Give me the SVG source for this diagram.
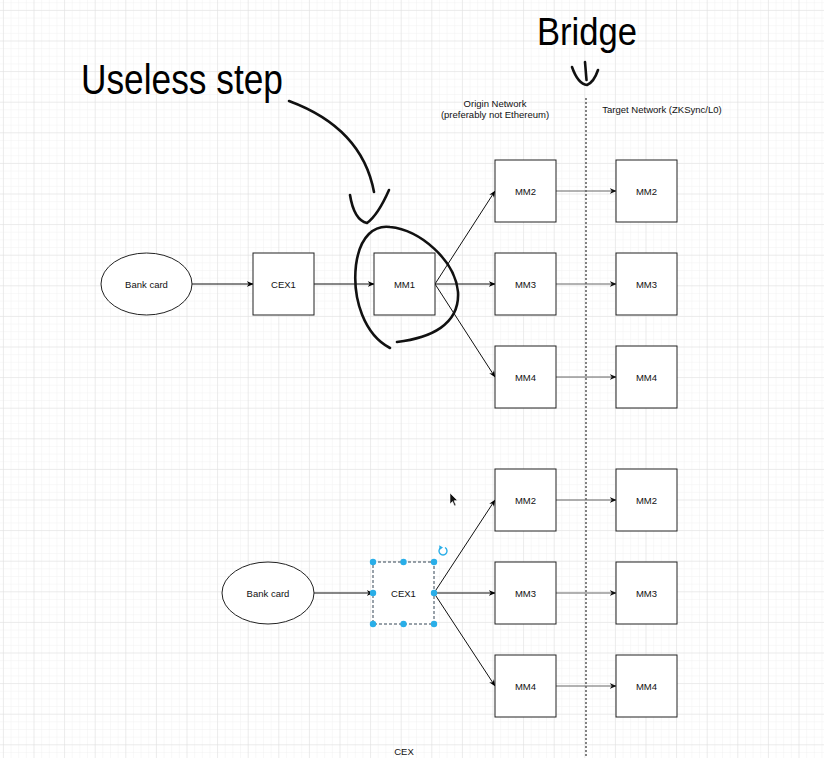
<svg xmlns="http://www.w3.org/2000/svg" width="824" height="758" viewBox="0 0 824 758">
  <defs>
    <pattern id="minor" width="7.65" height="7.65" x="2.9" y="9.9" patternUnits="userSpaceOnUse">
      <path d="M0,0 H7.65 M0,0 V7.65" stroke="#f1f1f1" stroke-width="1" fill="none"/>
    </pattern>
    <pattern id="major" width="30.6" height="30.6" x="2.9" y="9.9" patternUnits="userSpaceOnUse">
      <path d="M0,0 H30.6 M0,0 V30.6" stroke="#e0e0e0" stroke-width="1" fill="none"/>
    </pattern>
    <marker id="arr" viewBox="0 0 10 10" refX="9" refY="5" markerWidth="7" markerHeight="7" orient="auto" markerUnits="userSpaceOnUse">
      <path d="M0,1 L10,5 L0,9 L3,5 Z" fill="#000"/>
    </marker>
    <marker id="arrg" viewBox="0 0 10 10" refX="9" refY="5" markerWidth="7" markerHeight="7" orient="auto" markerUnits="userSpaceOnUse">
      <path d="M0,1 L10,5 L0,9 L3,5 Z" fill="#111"/>
    </marker>
  </defs>
  <style>
    .box { fill: #fff; stroke: #222; stroke-width: 1; }
    .lbl { font-family: "Liberation Sans", Arial, sans-serif; font-size: 9.5px; fill: #111; text-anchor: middle; dominant-baseline: central; }
    .edge { fill: none; stroke: #111; stroke-width: 1; marker-end: url(#arr); }
    .edge2 { fill: none; stroke: #666; stroke-width: 1; marker-end: url(#arrg); }
    .ink { fill: none; stroke: #111; stroke-width: 2.6; stroke-linecap: round; stroke-linejoin: round; }
    .big { font-family: "Liberation Sans", Arial, sans-serif; fill: #000; }
    .handle { fill: #29aee8; }
  </style>

  <rect width="824" height="758" fill="#fff"/>
  <rect width="824" height="758" fill="url(#minor)"/>
  <rect width="824" height="758" fill="url(#major)"/>

  <!-- bridge divider -->
  <line x1="586" y1="98" x2="586" y2="758" stroke="#333" stroke-width="1.2" stroke-dasharray="2,2"/>

  <!-- header texts -->
  <text class="lbl" x="495" y="103" font-size="9.5">Origin Network</text>
  <text class="lbl" x="495" y="114" font-size="9.5">(preferably not Ethereum)</text>
  <text class="lbl" x="662" y="109" font-size="9.5">Target Network (ZKSync/L0)</text>

  <!-- connectors -->
  <g id="connectors">
    <line class="edge" x1="192" y1="284" x2="253" y2="284"/>
    <line class="edge" x1="314" y1="284" x2="374" y2="284"/>
    <line class="edge" x1="435" y1="284" x2="495" y2="191"/>
    <line class="edge" x1="435" y1="284" x2="495" y2="284"/>
    <line class="edge" x1="435" y1="284" x2="495" y2="377"/>
    <line class="edge2" x1="556" y1="191" x2="616" y2="191"/>
    <line class="edge2" x1="556" y1="284" x2="616" y2="284"/>
    <line class="edge2" x1="556" y1="377" x2="616" y2="377"/>

    <line class="edge" x1="314" y1="593" x2="373" y2="593"/>
    <line class="edge" x1="434" y1="593" x2="495" y2="500"/>
    <line class="edge" x1="434" y1="593" x2="495" y2="593"/>
    <line class="edge" x1="434" y1="593" x2="495" y2="686"/>
    <line class="edge2" x1="556" y1="500" x2="616" y2="500"/>
    <line class="edge2" x1="556" y1="593" x2="616" y2="593"/>
    <line class="edge2" x1="556" y1="686" x2="616" y2="686"/>
  </g>

  <!-- top flow -->
  <g id="bank1"><ellipse class="box" cx="146.5" cy="284" rx="45.5" ry="31"/><text class="lbl" x="146.5" y="284">Bank card</text></g>
  <g id="cex1a"><rect class="box" x="253" y="253" width="61" height="62"/><text class="lbl" x="283.5" y="284">CEX1</text></g>
  <g id="mm1"><rect class="box" x="374" y="253" width="61" height="62"/><text class="lbl" x="404.5" y="284">MM1</text></g>
  <g id="mm2a"><rect class="box" x="495" y="160" width="61" height="62"/><text class="lbl" x="525.5" y="191">MM2</text></g>
  <g id="mm3a"><rect class="box" x="495" y="253" width="61" height="62"/><text class="lbl" x="525.5" y="284">MM3</text></g>
  <g id="mm4a"><rect class="box" x="495" y="346" width="61" height="62"/><text class="lbl" x="525.5" y="377">MM4</text></g>
  <g id="tmm2a"><rect class="box" x="616" y="160" width="61" height="62"/><text class="lbl" x="646.5" y="191">MM2</text></g>
  <g id="tmm3a"><rect class="box" x="616" y="253" width="61" height="62"/><text class="lbl" x="646.5" y="284">MM3</text></g>
  <g id="tmm4a"><rect class="box" x="616" y="346" width="61" height="62"/><text class="lbl" x="646.5" y="377">MM4</text></g>

  <!-- bottom flow -->
  <g id="bank2"><ellipse class="box" cx="268" cy="593" rx="46" ry="31"/><text class="lbl" x="268" y="593">Bank card</text></g>
  <g id="cex1b">
    <rect x="373" y="562" width="61" height="62" fill="#fff" stroke="#345" stroke-width="1" stroke-dasharray="3,2"/>
    <text class="lbl" x="403.5" y="593">CEX1</text>
    <circle class="handle" cx="373" cy="562" r="3.2"/>
    <circle class="handle" cx="403.5" cy="562" r="3.2"/>
    <circle class="handle" cx="434" cy="562" r="3.2"/>
    <circle class="handle" cx="373" cy="593" r="3.2"/>
    <circle class="handle" cx="434" cy="593" r="3.2"/>
    <circle class="handle" cx="373" cy="624" r="3.2"/>
    <circle class="handle" cx="403.5" cy="624" r="3.2"/>
    <circle class="handle" cx="434" cy="624" r="3.2"/>
    <path d="M445,547.5 A4,4 0 1 1 441,547.5" fill="none" stroke="#29aee8" stroke-width="1.4"/>
    <path d="M439.2,545.2 L443,547.6 L439.6,550 Z" fill="#29aee8"/>
  </g>
  <g id="mm2b"><rect class="box" x="495" y="469" width="61" height="62"/><text class="lbl" x="525.5" y="500">MM2</text></g>
  <g id="mm3b"><rect class="box" x="495" y="562" width="61" height="62"/><text class="lbl" x="525.5" y="593">MM3</text></g>
  <g id="mm4b"><rect class="box" x="495" y="655" width="61" height="62"/><text class="lbl" x="525.5" y="686">MM4</text></g>
  <g id="tmm2b"><rect class="box" x="616" y="469" width="61" height="62"/><text class="lbl" x="646.5" y="500">MM2</text></g>
  <g id="tmm3b"><rect class="box" x="616" y="562" width="61" height="62"/><text class="lbl" x="646.5" y="593">MM3</text></g>
  <g id="tmm4b"><rect class="box" x="616" y="655" width="61" height="62"/><text class="lbl" x="646.5" y="686">MM4</text></g>

  <text class="lbl" x="404" y="751">CEX</text>

  <!-- mouse cursor -->
  <path d="M450,493 L450,504 L452.5,501.5 L454.5,506 L456,505.3 L454,500.8 L457.5,500.5 Z" fill="#111" stroke="#fff" stroke-width="0.6"/>

  <!-- annotations -->
  <g id="useless-step">
    <text class="big" x="81" y="94" font-size="43" textLength="202" lengthAdjust="spacingAndGlyphs">Useless step</text>
    <path class="ink" d="M289,101 Q362,128 374,192"/>
    <path class="ink" d="M350,195 Q354,220 367,223 Q378,215 389,190"/>
    <path class="ink" d="M390,348 C365,335 352,300 356,265 C360,235 375,225 390,227 C420,230 455,260 458,292 C460,325 430,338 397,342"/>
  </g>
  <g id="bridge">
    <text class="big" x="537" y="45" font-size="38" textLength="100" lengthAdjust="spacingAndGlyphs">Bridge</text>
    <path class="ink" d="M585,62 L586.5,80" stroke-width="2"/>
    <path class="ink" d="M572,67 Q578,84 587,85 Q594,82 598,70" stroke-width="2"/>
  </g>
</svg>
